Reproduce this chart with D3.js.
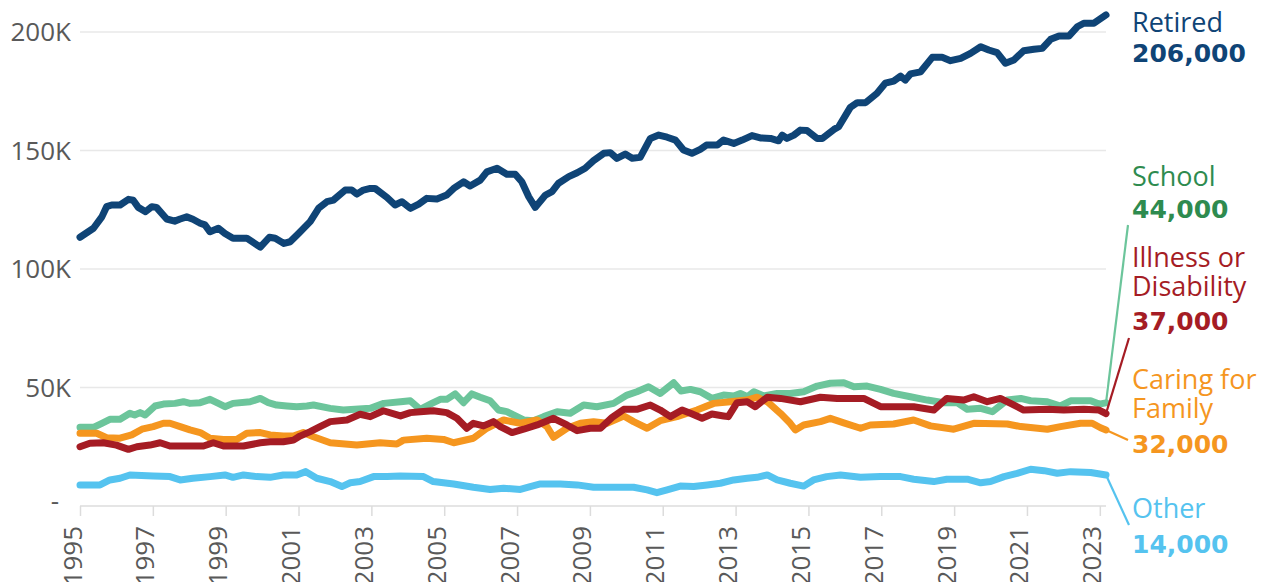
<!doctype html>
<html>
<head>
<meta charset="utf-8">
<style>
    body { margin: 0; background: #fff; }
    .tick-label { font-family: "Open Sans", sans-serif; font-size: 26px; fill: #595959; }
    .name { font-family: "Open Sans", sans-serif; font-size: 27px; }
    .num { font-family: "DejaVu Sans", sans-serif; font-size: 25px; font-weight: bold; }
</style>
<script src="https://d3js.org/d3.v7.min.js"></script>
</head>
<body>
<svg width="1268" height="582"></svg>
<script>

// values in thousands, [year, value]
var retired = [[1995.0,113.4],[1995.37,117.2],[1995.6,122],[1995.73,126.3],[1995.87,127],[1996.1,127],[1996.33,129.4],[1996.46,129],[1996.6,126],[1996.8,124.2],[1996.97,126.3],[1997.1,126],[1997.38,121.1],[1997.6,120.2],[1997.75,121.1],[1997.93,122],[1998.1,121],[1998.3,119.3],[1998.43,118.6],[1998.57,115.7],[1998.8,117.2],[1998.98,115],[1999.2,113],[1999.58,113],[1999.95,109.2],[2000.2,113.4],[2000.36,113],[2000.6,110.8],[2000.77,111.5],[2001.0,115],[2001.32,120],[2001.55,125.6],[2001.78,128.4],[2001.96,129.1],[2002.28,133.3],[2002.46,133.3],[2002.6,131.6],[2002.78,133.3],[2002.97,134],[2003.1,134],[2003.43,130.2],[2003.65,127],[2003.84,128.4],[2004.07,125.6],[2004.3,127.4],[2004.52,129.8],[2004.8,129.5],[2005.07,131.2],[2005.26,134],[2005.53,136.8],[2005.71,135],[2005.99,137.5],[2006.17,141],[2006.45,142.5],[2006.72,140],[2006.95,140],[2007.13,136.8],[2007.32,130.5],[2007.5,126],[2007.78,131.2],[2007.96,132.6],[2008.14,136.2],[2008.42,139],[2008.65,140.6],[2008.87,142.5],[2009.1,145.7],[2009.38,148.8],[2009.56,149.1],[2009.74,146.7],[2009.97,148.5],[2010.16,146.7],[2010.38,147.1],[2010.66,155.1],[2010.89,156.5],[2011.12,155.6],[2011.35,154.4],[2011.57,150.2],[2011.8,148.8],[2012.03,150.5],[2012.2,152.3],[2012.5,152.3],[2012.67,154.4],[2012.95,153],[2013.18,154.4],[2013.45,156.3],[2013.68,155.3],[2013.96,155.1],[2014.18,154.1],[2014.28,156.5],[2014.41,155.1],[2014.6,156.5],[2014.78,158.6],[2014.96,158.4],[2015.24,155.1],[2015.38,155.1],[2015.7,158.9],[2015.83,160],[2016.15,168.2],[2016.34,170.2],[2016.57,170.2],[2016.88,174.1],[2017.11,178.4],[2017.34,179.3],[2017.53,181.4],[2017.66,179.7],[2017.8,182.3],[2018.08,183.2],[2018.4,189.3],[2018.67,189.3],[2018.9,187.9],[2019.18,188.9],[2019.45,191],[2019.73,193.8],[2019.95,192.4],[2020.18,191.3],[2020.41,186.8],[2020.64,188.2],[2020.91,192.1],[2021.19,192.7],[2021.42,193.1],[2021.65,196.9],[2021.88,198.3],[2022.15,198.3],[2022.38,202.2],[2022.56,203.7],[2022.84,203.7],[2023.17,207.2]];

var school = [[1995.0,33.2],[1995.37,33.2],[1995.6,34.9],[1995.82,36.6],[1996.1,36.6],[1996.37,39.1],[1996.5,38.4],[1996.65,39.4],[1996.79,38.4],[1997.06,42.2],[1997.29,43],[1997.61,43.3],[1997.84,44],[1998.02,43.3],[1998.3,43.6],[1998.57,45],[1998.8,43.3],[1998.98,41.9],[1999.2,43.3],[1999.67,44],[1999.95,45.4],[2000.17,43.6],[2000.4,42.6],[2000.68,42.2],[2000.95,41.9],[2001.23,42.2],[2001.41,42.6],[2001.87,41.2],[2002.23,40.5],[2002.97,41.2],[2003.34,43.3],[2003.8,44],[2004.07,44.4],[2004.34,40.8],[2004.66,43.3],[2004.89,45],[2005.07,45],[2005.3,47.3],[2005.53,43.6],[2005.76,47.3],[2005.99,45.9],[2006.26,44.4],[2006.49,40.5],[2006.72,39.8],[2006.9,38.4],[2007.18,36.3],[2007.45,36],[2007.73,37.7],[2008.1,39.8],[2008.46,39.1],[2008.83,42.6],[2009.19,41.9],[2009.65,43.3],[2010.02,46.8],[2010.29,48.2],[2010.61,50.3],[2010.93,47.5],[2011.3,52],[2011.5,48.5],[2011.76,49.2],[2012.03,48.2],[2012.35,45.4],[2012.67,46.8],[2012.95,46.4],[2013.13,47.5],[2013.32,46.1],[2013.5,48.2],[2013.77,46.4],[2014.14,47.5],[2014.5,47.5],[2014.87,48.2],[2015.24,50.6],[2015.6,51.8],[2015.97,52],[2016.25,50.3],[2016.61,50.6],[2016.98,49.2],[2017.34,47.5],[2017.8,46.1],[2018.26,44.7],[2018.72,43.6],[2019.08,43.6],[2019.36,40.8],[2019.73,41.2],[2020.05,39.8],[2020.46,44.7],[2020.83,45.4],[2021.1,44.4],[2021.56,44],[2021.92,42.2],[2022.2,44.4],[2022.75,44.4],[2022.98,43],[2023.17,43.5]];

var illness = [[1995.0,25],[1995.27,26.5],[1995.64,26.7],[1996.0,25.7],[1996.33,23.9],[1996.56,25],[1996.92,25.7],[1997.2,26.7],[1997.47,25.3],[1998.39,25.3],[1998.66,26.7],[1998.94,25.3],[1999.49,25.3],[1999.95,26.7],[2000.22,27.1],[2000.58,27.1],[2000.86,27.8],[2001.04,29.5],[2001.32,31.4],[2001.59,33.5],[2001.87,35.6],[2002.33,36.3],[2002.69,38.7],[2002.97,37.7],[2003.33,40.2],[2003.8,38],[2004.07,39.4],[2004.34,39.8],[2004.7,40.2],[2005.07,39.4],[2005.35,37],[2005.62,32.8],[2005.8,34.9],[2006.08,33.8],[2006.35,35.6],[2006.54,33.5],[2006.86,31],[2007.18,32.4],[2007.55,34.2],[2008.0,37],[2008.37,34.2],[2008.65,31.8],[2009.01,32.8],[2009.29,32.8],[2009.61,37.4],[2009.93,40.8],[2010.29,40.8],[2010.66,42.6],[2010.93,40.5],[2011.21,37.7],[2011.53,40.5],[2011.76,39.1],[2012.08,37],[2012.35,38.8],[2012.67,38],[2012.8,37.7],[2013.04,43.6],[2013.32,44],[2013.54,41.9],[2013.87,45.9],[2014.23,45.4],[2014.78,44],[2015.33,45.9],[2015.79,45.4],[2016.52,45.4],[2016.98,41.9],[2017.43,41.9],[2017.89,41.9],[2018.44,40.5],[2018.8,45.4],[2019.26,44.7],[2019.54,46.1],[2019.91,44],[2020.27,45.4],[2020.55,43.3],[2020.91,40.5],[2021.56,40.8],[2022.01,40.5],[2022.56,40.8],[2022.98,40.5],[2023.17,39]];

var caring = [[1995.0,30.7],[1995.46,30.7],[1995.73,28.8],[1996.1,28.6],[1996.42,30],[1996.7,32.4],[1997.01,33.5],[1997.29,34.9],[1997.47,34.9],[1997.75,33.5],[1998.02,32.1],[1998.3,31],[1998.57,28.6],[1998.94,28.1],[1999.3,28.1],[1999.58,30.7],[1999.95,31],[2000.22,30],[2000.58,29.5],[2000.86,29.5],[2001.13,31],[2001.41,29.2],[2001.87,26.7],[2002.6,25.7],[2003.24,26.7],[2003.7,26.2],[2003.88,27.8],[2004.52,28.6],[2004.98,28.1],[2005.26,26.7],[2005.8,28.6],[2006.17,32.8],[2006.63,36.3],[2007.09,34.9],[2007.55,36.3],[2007.82,33.5],[2008.0,29],[2008.37,32.8],[2008.74,34.9],[2009.1,35.6],[2009.47,34.9],[2009.93,38],[2010.2,35.6],[2010.57,32.8],[2010.93,36],[2011.39,37.7],[2011.94,40.5],[2012.4,43.3],[2012.86,44],[2013.32,44.7],[2013.59,45.9],[2013.87,44],[2014.23,39.1],[2014.5,34.9],[2014.64,32.1],[2014.87,34.2],[2015.33,35.6],[2015.6,37],[2015.97,35.1],[2016.43,32.8],[2016.7,34.2],[2017.34,34.6],[2017.89,36.3],[2018.35,33.8],[2018.99,32.4],[2019.54,34.9],[2020.46,34.6],[2020.83,33.5],[2021.56,32.4],[2021.92,33.5],[2022.47,34.9],[2022.79,34.9],[2023.02,33],[2023.17,32.1]];

var other = [[1995.0,8.9],[1995.55,8.9],[1995.82,11],[1996.1,11.7],[1996.37,13.1],[1997.01,12.7],[1997.47,12.4],[1997.75,11],[1998.1,11.7],[1998.57,12.4],[1998.98,13.1],[1999.2,12.1],[1999.49,13.1],[1999.85,12.4],[2000.22,12.1],[2000.58,13.1],[2000.95,13.1],[2001.2,14.5],[2001.5,11.7],[2001.87,10.3],[2002.19,8.2],[2002.42,9.8],[2002.69,10.3],[2003.06,12.4],[2003.43,12.4],[2003.79,12.7],[2004.43,12.4],[2004.7,10.3],[2005.26,9.3],[2005.8,7.9],[2006.26,7],[2006.63,7.5],[2007.09,7],[2007.36,8.2],[2007.64,9.3],[2008.19,9.3],[2008.65,8.9],[2009.1,7.9],[2010.2,7.9],[2010.57,6.8],[2010.84,5.6],[2011.12,6.8],[2011.48,8.4],[2011.85,8.2],[2012.22,8.9],[2012.58,9.6],[2012.95,11],[2013.32,11.7],[2013.59,12.1],[2013.87,13.1],[2014.14,11],[2014.5,9.6],[2014.87,8.4],[2015.14,11],[2015.5,12.4],[2015.88,13.1],[2016.43,12.1],[2016.98,12.4],[2017.53,12.4],[2017.89,11.3],[2018.44,10.3],[2018.8,11.3],[2019.36,11.3],[2019.73,9.8],[2020.0,10.3],[2020.37,12.4],[2020.73,13.8],[2021.1,15.5],[2021.47,14.9],[2021.83,13.8],[2022.2,14.5],[2022.75,14.1],[2023.17,13.1]];

var xTicks = [1995, 1997, 1999, 2001, 2003, 2005, 2007, 2009, 2011, 2013, 2015, 2017, 2019, 2021, 2023];
var yTicks = [0, 50, 100, 150, 200];
var yTickLabels = ["-", "50K", "100K", "150K", "200K"];

var names = ["Retired", "School", "Illness or|Disability", "Caring for|Family", "Other"];
var finals = ["206,000", "44,000", "37,000", "32,000", "14,000"];

var svg = d3.select("svg");

var x = d3.scaleLinear().domain([1995, 2023.17]).range([80, 1106]);
var y = d3.scaleLinear().domain([0, 200]).range([506, 32]);

// gridlines
svg.append("g")
   .selectAll("line")
   .data(yTicks)
   .enter().append("line")
   .attr("x1", 80).attr("x2", 1106)
   .attr("y1", function(d) { return y(d); })
   .attr("y2", function(d) { return y(d); })
   .attr("stroke", function(d) { return d == 0 ? "#dcdcdc" : "#e8e8e8"; })
   .attr("stroke-width", 1.5);

// y labels
svg.append("g")
   .selectAll("text")
   .data(yTicks)
   .enter().append("text")
   .attr("class", "tick-label")
   .attr("x", function(d) { return d == 0 ? 59 : 71; })
   .attr("y", function(d) { return y(d); })
   .attr("dy", function(d) { return d == 0 ? "0.15em" : "0.36em"; })
   .attr("text-anchor", "end")
   .text(function(d, i) { return yTickLabels[i]; });

// x axis
var xAxis = svg.append("g")
   .attr("transform", "translate(0," + y(0) + ")")
   .call(d3.axisBottom(x).tickValues(xTicks).tickFormat(d3.format("d")).tickSize(10).tickSizeOuter(0));
xAxis.select(".domain").remove();
xAxis.selectAll(".tick line").attr("stroke", "#dcdcdc").attr("stroke-width", 1.5);
xAxis.selectAll(".tick text")
   .attr("class", "tick-label")
   .attr("font-family", null).attr("font-size", null).attr("fill", null)
   .attr("transform", "rotate(-90)")
   .attr("text-anchor", "end")
   .attr("x", -20)
   .attr("y", 1)
   .attr("dy", 0);
xAxis.attr("font-family", null).attr("font-size", null);

var line = d3.line()
   .x(function(d) { return x(d[0]); })
   .y(function(d) { return y(d[1]); });

var series = [
    {data: school, color: "#6cc59b"},
    {data: caring, color: "#f5961f"},
    {data: illness, color: "#a51c24"},
    {data: other, color: "#55c3ef"},
    {data: retired, color: "#0f4476"}
];

svg.append("g")
   .selectAll("path")
   .data(series)
   .enter().append("path")
   .attr("d", function(d) { return line(d.data); })
   .attr("fill", "none")
   .attr("stroke", function(d) { return d.color; })
   .attr("stroke-width", 7)
   .attr("stroke-linejoin", "round")
   .attr("stroke-linecap", "round");

// end labels
var labels = [
    {name: names[0], num: finals[0], color: "#0f4476", nameColor: "#0f4476", y: 32, numY: 62, conn: null, last: retired},
    {name: names[1], num: finals[1], color: "#6cc59b", nameColor: "#2e8b4f", y: 186, numY: 218, conn: [1128, 225], last: school},
    {name: names[2], num: finals[2], color: "#a51c24", nameColor: "#a51c24", y: 267, numY: 330, conn: [1129, 338], last: illness},
    {name: names[3], num: finals[3], color: "#f5961f", nameColor: "#f5961f", y: 389, numY: 453, conn: [1128, 440], last: caring},
    {name: names[4], num: finals[4], color: "#55c3ef", nameColor: "#55c3ef", y: 518, numY: 553, conn: [1129, 525], last: other}
];

labels.forEach(function(l) {
    if (l.conn) {
        var p = l.last[l.last.length - 1];
        svg.append("line")
           .attr("x1", x(p[0])).attr("y1", y(p[1]))
           .attr("x2", l.conn[0]).attr("y2", l.conn[1])
           .attr("stroke", l.color)
           .attr("stroke-width", 2.2);
    }
    l.name.split("|").forEach(function(s, i) {
        svg.append("text")
           .attr("class", "name")
           .attr("x", 1132)
           .attr("y", l.y + i * 29)
           .attr("fill", l.nameColor)
           .text(s);
    });
    svg.append("text")
       .attr("class", "num")
       .attr("x", 1132)
       .attr("y", l.numY)
       .attr("fill", l.nameColor)
       .text(l.num);
});

</script>
</body>
</html>
